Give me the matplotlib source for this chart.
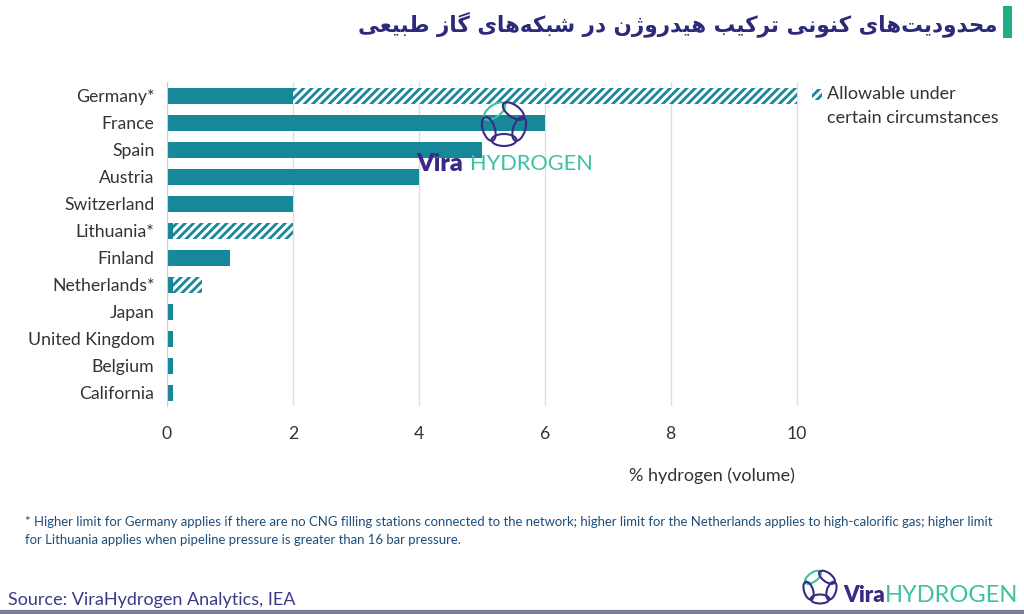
import numpy as np
import matplotlib
matplotlib.use('Agg')
import matplotlib.pyplot as plt
from matplotlib.patches import Rectangle, Ellipse

# داده‌ها
countries = ['Germany*', 'France', 'Spain', 'Austria', 'Switzerland', 'Lithuania*',
             'Finland', 'Netherlands*', 'Japan', 'United Kingdom', 'Belgium', 'California']
limit_base = [2, 6, 5, 4, 2, 0.1, 1, 0.1, 0.1, 0.1, 0.1, 0.1]
limit_max = [10, 6, 5, 4, 2, 2, 1, 0.55, 0.1, 0.1, 0.1, 0.1]
xticks = [0, 2, 4, 6, 8, 10]

title_fa = 'محدودیت\u200cهای کنونی ترکیب هیدروژن در شبکه\u200cهای گاز طبیعی'
legend_text = 'Allowable under\ncertain circumstances'
footnote = ('* Higher limit for Germany applies if there are no CNG filling stations connected to the network; '
            'higher limit for the Netherlands applies to high-calorific gas; higher limit\n'
            'for Lithuania applies when pipeline pressure is greater than 16 bar pressure.')
source = 'Source: ViraHydrogen Analytics, IEA'

teal = '#17879a'
navy = '#2e2a7a'
logo_navy = '#3a2a85'
logo_green = '#3cc2a2'

# شکل‌دهی ساده حروف فارسی (matplotlib خودش اتصال حروف را انجام نمی‌دهد)
forms = {
    'ا': ('\uFE8D', '\uFE8E', None, None),
    'ب': ('\uFE8F', '\uFE90', '\uFE91', '\uFE92'),
    'ت': ('\uFE95', '\uFE96', '\uFE97', '\uFE98'),
    'ح': ('\uFEA1', '\uFEA2', '\uFEA3', '\uFEA4'),
    'د': ('\uFEA9', '\uFEAA', None, None),
    'ر': ('\uFEAD', '\uFEAE', None, None),
    'ز': ('\uFEAF', '\uFEB0', None, None),
    'ژ': ('\uFB8A', '\uFB8B', None, None),
    'ش': ('\uFEB5', '\uFEB6', '\uFEB7', '\uFEB8'),
    'ط': ('\uFEC1', '\uFEC2', '\uFEC3', '\uFEC4'),
    'ع': ('\uFEC9', '\uFECA', '\uFECB', '\uFECC'),
    'ک': ('\uFB8E', '\uFB8F', '\uFB90', '\uFB91'),
    'گ': ('\uFB92', '\uFB93', '\uFB94', '\uFB95'),
    'م': ('\uFEE1', '\uFEE2', '\uFEE3', '\uFEE4'),
    'ن': ('\uFEE5', '\uFEE6', '\uFEE7', '\uFEE8'),
    'ه': ('\uFEE9', '\uFEEA', '\uFEEB', '\uFEEC'),
    'و': ('\uFEED', '\uFEEE', None, None),
    'ی': ('\uFBFC', '\uFBFD', '\uFBFE', '\uFBFF'),
}


def shape_fa(text):
    out = []
    for i, ch in enumerate(text):
        if ch not in forms:
            if ch != '\u200c':
                out.append(ch)
            continue
        prev = text[i - 1] if i > 0 else ''
        nxt = text[i + 1] if i + 1 < len(text) else ''
        join_prev = prev in forms and forms[prev][2] is not None
        join_next = forms[ch][2] is not None and nxt in forms
        iso, fin, ini, med = forms[ch]
        if join_prev and join_next:
            out.append(med)
        elif join_prev:
            out.append(fin)
        elif join_next:
            out.append(ini)
        else:
            out.append(iso)
    return ''.join(out)[::-1]


def logo(fig, x, y, r):
    # حلقه‌های زنجیر پنج‌ضلعی لوگو؛ x, y, r بر حسب پیکسل
    for k in range(5):
        a = np.pi / 2 + np.pi / 5 + k * 2 * np.pi / 5
        cx = x + r * np.cos(a)
        cy = y + r * np.sin(a)
        col = logo_green if k == 0 else logo_navy
        e = Ellipse((cx / 100, cy / 100), r * 1.55 / 100, r * 0.75 / 100,
                    angle=np.degrees(a) + 90, transform=fig.dpi_scale_trans,
                    fill=False, edgecolor=col, lw=1.5)
        fig.add_artist(e)


plt.rcParams['font.family'] = ['Lato', 'DejaVu Sans']
plt.rcParams['hatch.linewidth'] = 2.0
plt.rcParams['hatch.color'] = teal

fig = plt.figure(figsize=(10.24, 6.14), dpi=100)
ax = fig.add_axes([0.163, 0.338, 0.618, 0.528])

y = np.arange(len(countries))
ax.barh(y, limit_max, height=0.6, color='white', edgecolor=teal, hatch='////', linewidth=0)
ax.barh(y, limit_base, height=0.6, color=teal, linewidth=0)

ax.set_ylim(len(countries) - 0.5, -0.5)
ax.set_xlim(0, 10.05)
ax.set_xticks(xticks)
ax.set_xticklabels([str(t) for t in xticks])
ax.set_yticks(y)
ax.set_yticklabels(countries)
ax.tick_params(axis='both', length=0, labelsize=12.7, colors='#333333')
ax.tick_params(axis='y', pad=9)
ax.tick_params(axis='x', pad=14)
ax.xaxis.grid(True, color='#dddddd', lw=1)
ax.set_axisbelow(True)
for sp in ['top', 'right', 'bottom']:
    ax.spines[sp].set_visible(False)
ax.spines['left'].set_color('#cccccc')

# راهنما
fig.add_artist(Rectangle((812 / 1024, 1 - 100 / 614), 10 / 1024, 11 / 614, transform=fig.transFigure,
                         facecolor='white', edgecolor=teal, hatch='////', lw=0))
fig.text(827 / 1024, 1 - 106 / 614, legend_text, fontsize=13, color='#333333',
         va='center', ha='left', linespacing=1.55)

fig.text(712 / 1024, 1 - 476 / 614, '% hydrogen (volume)', fontsize=13, color='#333333',
         ha='center', va='center')

# عنوان
fig.text(998 / 1024, 1 - 24 / 614, shape_fa(title_fa), fontsize=15.5, fontweight='bold', color=navy,
         ha='right', va='center', fontfamily='DejaVu Sans')
fig.add_artist(Rectangle((1003 / 1024, 1 - 38 / 614), 9 / 1024, 32 / 614, transform=fig.transFigure,
                         color='#1fae86', lw=0))

fig.text(25 / 1024, 1 - 531 / 614, footnote, fontsize=9.45, color='#1f4e79', ha='left', va='center',
         linespacing=1.5, fontfamily='Lato')

fig.text(8 / 1024, 1 - 600 / 614, source, fontsize=13, color='#3b3b8a', ha='left', va='center')
fig.add_artist(plt.Line2D([0, 1], [0.004, 0.004], transform=fig.transFigure, color='#7a7a99', lw=3))

# واترمارک وسط
logo(fig, 504, 614 - 124, 16)
fig.text(416 / 1024, 1 - 164 / 614, 'Vira', fontsize=18, fontweight='heavy', color=logo_navy,
         ha='left', va='center')
fig.text(470 / 1024, 1 - 164 / 614, 'HYDROGEN', fontsize=15.7, fontweight='normal', color=logo_green,
         ha='left', va='center')

# لوگوی پایین
logo(fig, 820, 614 - 587, 12)
fig.text(843 / 1024, 1 - 596 / 614, 'Vira', fontsize=16, fontweight='heavy', color=logo_navy,
         ha='left', va='center')
fig.text(885 / 1024, 1 - 596 / 614, 'HYDROGEN', fontsize=17, fontweight='normal', color=logo_green,
         ha='left', va='center')

fig.savefig('out.png', dpi=100)
